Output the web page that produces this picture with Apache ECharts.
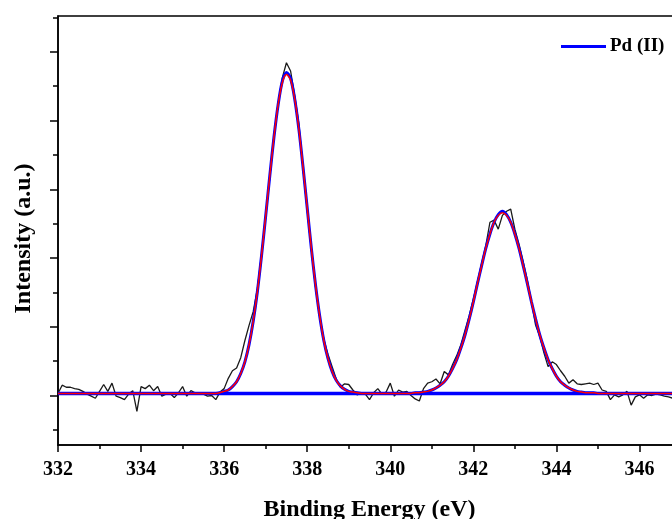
<!DOCTYPE html>
<html>
<head>
<meta charset="utf-8">
<script src="https://cdn.jsdelivr.net/npm/echarts@6/dist/echarts.min.js"></script>
<style>
html,body{margin:0;padding:0;background:#fff;}
#chart{width:672px;height:519px;}
</style>
</head>
<body>
<div id="chart"></div>
<script>
// Binding energy grid: 332.0 to 347.0 eV, 0.1 eV sampling
const energyStart = 332.0;
const energyStep = 0.1;
const pointCount = 151;

// Raw spectrum (a.u.), one row per eV
const rawIntensity = [
  0.03, 0.15, 0.12, 0.12, 0.10, 0.09, 0.06, 0.02, -0.01, -0.04,   // 332.0-332.9
  0.06, 0.16, 0.06, 0.18, -0.01, -0.03, -0.06, 0.02, 0.07, -0.23, // 333.0-333.9
  0.13, 0.10, 0.15, 0.07, 0.13, -0.01, 0.02, 0.03, -0.03, 0.04,   // 334.0-334.9
  0.13, -0.01, 0.07, 0.04, 0.03, 0.02, -0.01, 0.00, -0.06, 0.05,  // 335.0-335.9
  0.10, 0.25, 0.36, 0.40, 0.55, 0.80, 1.02, 1.22, 1.55, 2.05,     // 336.0-336.9
  2.60, 3.18, 3.78, 4.25, 4.62, 4.84, 4.72, 4.36, 3.95, 3.30,     // 337.0-337.9
  2.70, 2.12, 1.58, 1.15, 0.82, 0.60, 0.42, 0.24, 0.12, 0.17,     // 338.0-338.9
  0.16, 0.08, 0.01, 0.03, 0.02, -0.06, 0.04, 0.10, 0.02, 0.05,    // 339.0-339.9
  0.18, -0.01, 0.08, 0.05, 0.06, 0.00, -0.05, -0.08, 0.10, 0.18,  // 340.0-340.9
  0.20, 0.24, 0.17, 0.35, 0.30, 0.45, 0.58, 0.74, 0.95, 1.16,     // 341.0-341.9
  1.40, 1.66, 1.92, 2.18, 2.52, 2.55, 2.42, 2.62, 2.68, 2.71,     // 342.0-342.9
  2.42, 2.20, 1.95, 1.68, 1.36, 1.02, 0.86, 0.62, 0.42, 0.49,     // 343.0-343.9
  0.45, 0.36, 0.28, 0.18, 0.23, 0.17, 0.16, 0.17, 0.18, 0.16,     // 344.0-344.9
  0.18, 0.08, 0.06, -0.06, 0.01, -0.02, 0.01, 0.06, -0.14, -0.02, // 345.0-345.9
  0.01, -0.04, 0.01, 0.00, 0.02, 0.01, -0.01, -0.02, -0.04, -0.02,// 346.0-346.9
  0.00                                                            // 347.0
];

// Fitted Pd(II) component (blue)
const pdIIFit = [
  0.03, 0.03, 0.03, 0.03, 0.03, 0.03, 0.03, 0.03, 0.03, 0.03,     // 332
  0.03, 0.03, 0.03, 0.03, 0.03, 0.03, 0.03, 0.03, 0.03, 0.03,     // 333
  0.03, 0.03, 0.03, 0.03, 0.03, 0.03, 0.03, 0.03, 0.03, 0.03,     // 334
  0.03, 0.03, 0.03, 0.03, 0.03, 0.03, 0.03, 0.03, 0.03, 0.04,     // 335
  0.06, 0.08, 0.13, 0.20, 0.32, 0.49, 0.74, 1.08, 1.51, 2.03,     // 336
  2.61, 3.20, 3.76, 4.23, 4.57, 4.70, 4.61, 4.31, 3.87, 3.32,     // 337
  2.73, 2.14, 1.61, 1.16, 0.80, 0.54, 0.35, 0.22, 0.14, 0.09,     // 338
  0.06, 0.05, 0.04, 0.03, 0.03, 0.03, 0.03, 0.03, 0.03, 0.03,     // 339
  0.03, 0.03, 0.03, 0.03, 0.03, 0.03, 0.04, 0.04, 0.05, 0.06,     // 340
  0.08, 0.11, 0.15, 0.20, 0.28, 0.39, 0.52, 0.69, 0.88, 1.11,     // 341
  1.36, 1.63, 1.89, 2.14, 2.35, 2.52, 2.63, 2.68, 2.63, 2.52,     // 342
  2.35, 2.14, 1.89, 1.63, 1.36, 1.11, 0.88, 0.69, 0.52, 0.39,     // 343
  0.28, 0.20, 0.15, 0.11, 0.08, 0.06, 0.05, 0.04, 0.04, 0.04,     // 344
  0.03, 0.03, 0.03, 0.03, 0.03, 0.03, 0.03, 0.03, 0.03, 0.03,     // 345
  0.03, 0.03, 0.03, 0.03, 0.03, 0.03, 0.03, 0.03, 0.03, 0.03,     // 346
  0.03                                                            // 347
];

// Cumulative fit envelope (red)
const envelopeFit = [
  0.03, 0.03, 0.03, 0.03, 0.03, 0.03, 0.03, 0.03, 0.03, 0.03,
  0.03, 0.03, 0.03, 0.03, 0.03, 0.03, 0.03, 0.03, 0.03, 0.03,
  0.03, 0.03, 0.03, 0.03, 0.03, 0.03, 0.03, 0.03, 0.03, 0.03,
  0.03, 0.03, 0.03, 0.03, 0.03, 0.03, 0.03, 0.03, 0.03, 0.04,
  0.06, 0.08, 0.13, 0.20, 0.32, 0.49, 0.74, 1.08, 1.51, 2.03,
  2.61, 3.20, 3.76, 4.23, 4.55, 4.67, 4.59, 4.31, 3.87, 3.32,
  2.73, 2.14, 1.61, 1.16, 0.80, 0.54, 0.35, 0.22, 0.14, 0.09,
  0.06, 0.05, 0.04, 0.03, 0.03, 0.03, 0.03, 0.03, 0.03, 0.03,
  0.03, 0.03, 0.03, 0.03, 0.03, 0.03, 0.04, 0.04, 0.05, 0.06,
  0.08, 0.11, 0.15, 0.20, 0.28, 0.39, 0.52, 0.69, 0.88, 1.11,
  1.36, 1.63, 1.89, 2.14, 2.35, 2.52, 2.62, 2.66, 2.62, 2.52,
  2.35, 2.14, 1.89, 1.63, 1.36, 1.11, 0.88, 0.69, 0.52, 0.39,
  0.28, 0.20, 0.15, 0.11, 0.08, 0.06, 0.05, 0.04, 0.04, 0.04,
  0.03, 0.03, 0.03, 0.03, 0.03, 0.03, 0.03, 0.03, 0.03, 0.03,
  0.03, 0.03, 0.03, 0.03, 0.03, 0.03, 0.03, 0.03, 0.03, 0.03,
  0.03
];

// Background level
const backgroundEnergies = [332, 347];
const backgroundLevel = [0.03, 0.03];

// Axis ticks
const xTickLabels = [332, 334, 336, 338, 340, 342, 344, 346];
const yMajorTicks = [0, 1, 2, 3, 4, 5];
const yMinorTicks = [-0.5, 0.5, 1.5, 2.5, 3.5, 4.5, 5.5];

const energies = [];
for (let i = 0; i < pointCount; i++) energies.push(+(energyStart + i * energyStep).toFixed(1));
const pair = arr => arr.map((v, i) => [energies[i], v]);

const FONT = '"Liberation Serif", "Times New Roman", serif';
const chart = echarts.init(document.getElementById('chart'), null, {renderer: 'canvas'});
chart.setOption({
  animation: false,
  backgroundColor: '#ffffff',
  grid: {left: 58, top: 16, width: 623, height: 429, outerBoundsMode: 'none', containLabel: false,
    show: true, borderColor: '#000', borderWidth: 1.5, backgroundColor: 'transparent'},
  legend: {
    data: ['Pd (II)'],
    left: 561, top: 37, padding: 0,
    icon: 'rect', itemWidth: 45, itemHeight: 3, itemGap: 4,
    textStyle: {fontFamily: FONT, fontWeight: 'bold', fontSize: 19, color: '#000', padding: [0, 0, 0, -1]}
  },
  xAxis: {
    type: 'value', min: 332, max: 347, interval: 2,
    name: 'Binding Energy (eV)', nameLocation: 'middle', nameGap: 53,
    nameTextStyle: {fontFamily: FONT, fontWeight: 'bold', fontSize: 24, color: '#000'},
    axisLine: {show: true, onZero: false, lineStyle: {color: '#000', width: 1.5}},
    axisTick: {show: true, inside: false, length: 7, lineStyle: {color: '#000', width: 1.5}},
    minorTick: {show: true, splitNumber: 2, length: 4, lineStyle: {color: '#000', width: 1.5}},
    axisLabel: {showMaxLabel: false, margin: 15, fontFamily: FONT, fontWeight: 'bold', fontSize: 20, color: '#000',
      formatter: v => xTickLabels.indexOf(v) >= 0 ? String(v) : ''},
    splitLine: {show: false}
  },
  yAxis: [{
    type: 'value', min: -0.72, max: 5.52,
    name: 'Intensity (a.u.)', nameLocation: 'middle', nameGap: 22,
    nameTextStyle: {fontFamily: FONT, fontWeight: 'bold', fontSize: 24, color: '#000', padding: [0, 16, 0, 0]},
    axisLine: {show: true, onZero: false, lineStyle: {color: '#000', width: 1.5}},
    axisTick: {show: true, inside: false, length: 8, customValues: yMajorTicks, lineStyle: {color: '#000', width: 1.5}},
    axisLabel: {show: false},
    splitLine: {show: false}
  }, {
    type: 'value', min: -0.72, max: 5.52, position: 'left',
    axisLine: {show: false},
    axisTick: {show: true, inside: false, length: 5, customValues: yMinorTicks, lineStyle: {color: '#000', width: 1.5}},
    axisLabel: {show: false},
    splitLine: {show: false}
  }],
  series: [
    {name: 'Raw', type: 'line', data: pair(rawIntensity), showSymbol: false, symbol: 'none',
      lineStyle: {color: '#1a1a1a', width: 1.3}, itemStyle: {color: '#1a1a1a'}, z: 2},
    {name: 'Pd (II)', type: 'line', data: pair(pdIIFit), showSymbol: false, symbol: 'none', smooth: 0.3,
      lineStyle: {color: '#0000ff', width: 3}, itemStyle: {color: '#0000ff'}, z: 3},
    {name: 'Background', type: 'line', data: backgroundEnergies.map((e, i) => [e, backgroundLevel[i]]), showSymbol: false, symbol: 'none',
      lineStyle: {color: '#0000ff', width: 3.5}, itemStyle: {color: '#0000ff'}, z: 3},
    {name: 'Envelope', type: 'line', data: pair(envelopeFit), showSymbol: false, symbol: 'none', smooth: 0.3,
      lineStyle: {color: '#ff0000', width: 1.5}, itemStyle: {color: '#ff0000'}, z: 4}
  ]
});
</script>
</body>
</html>
